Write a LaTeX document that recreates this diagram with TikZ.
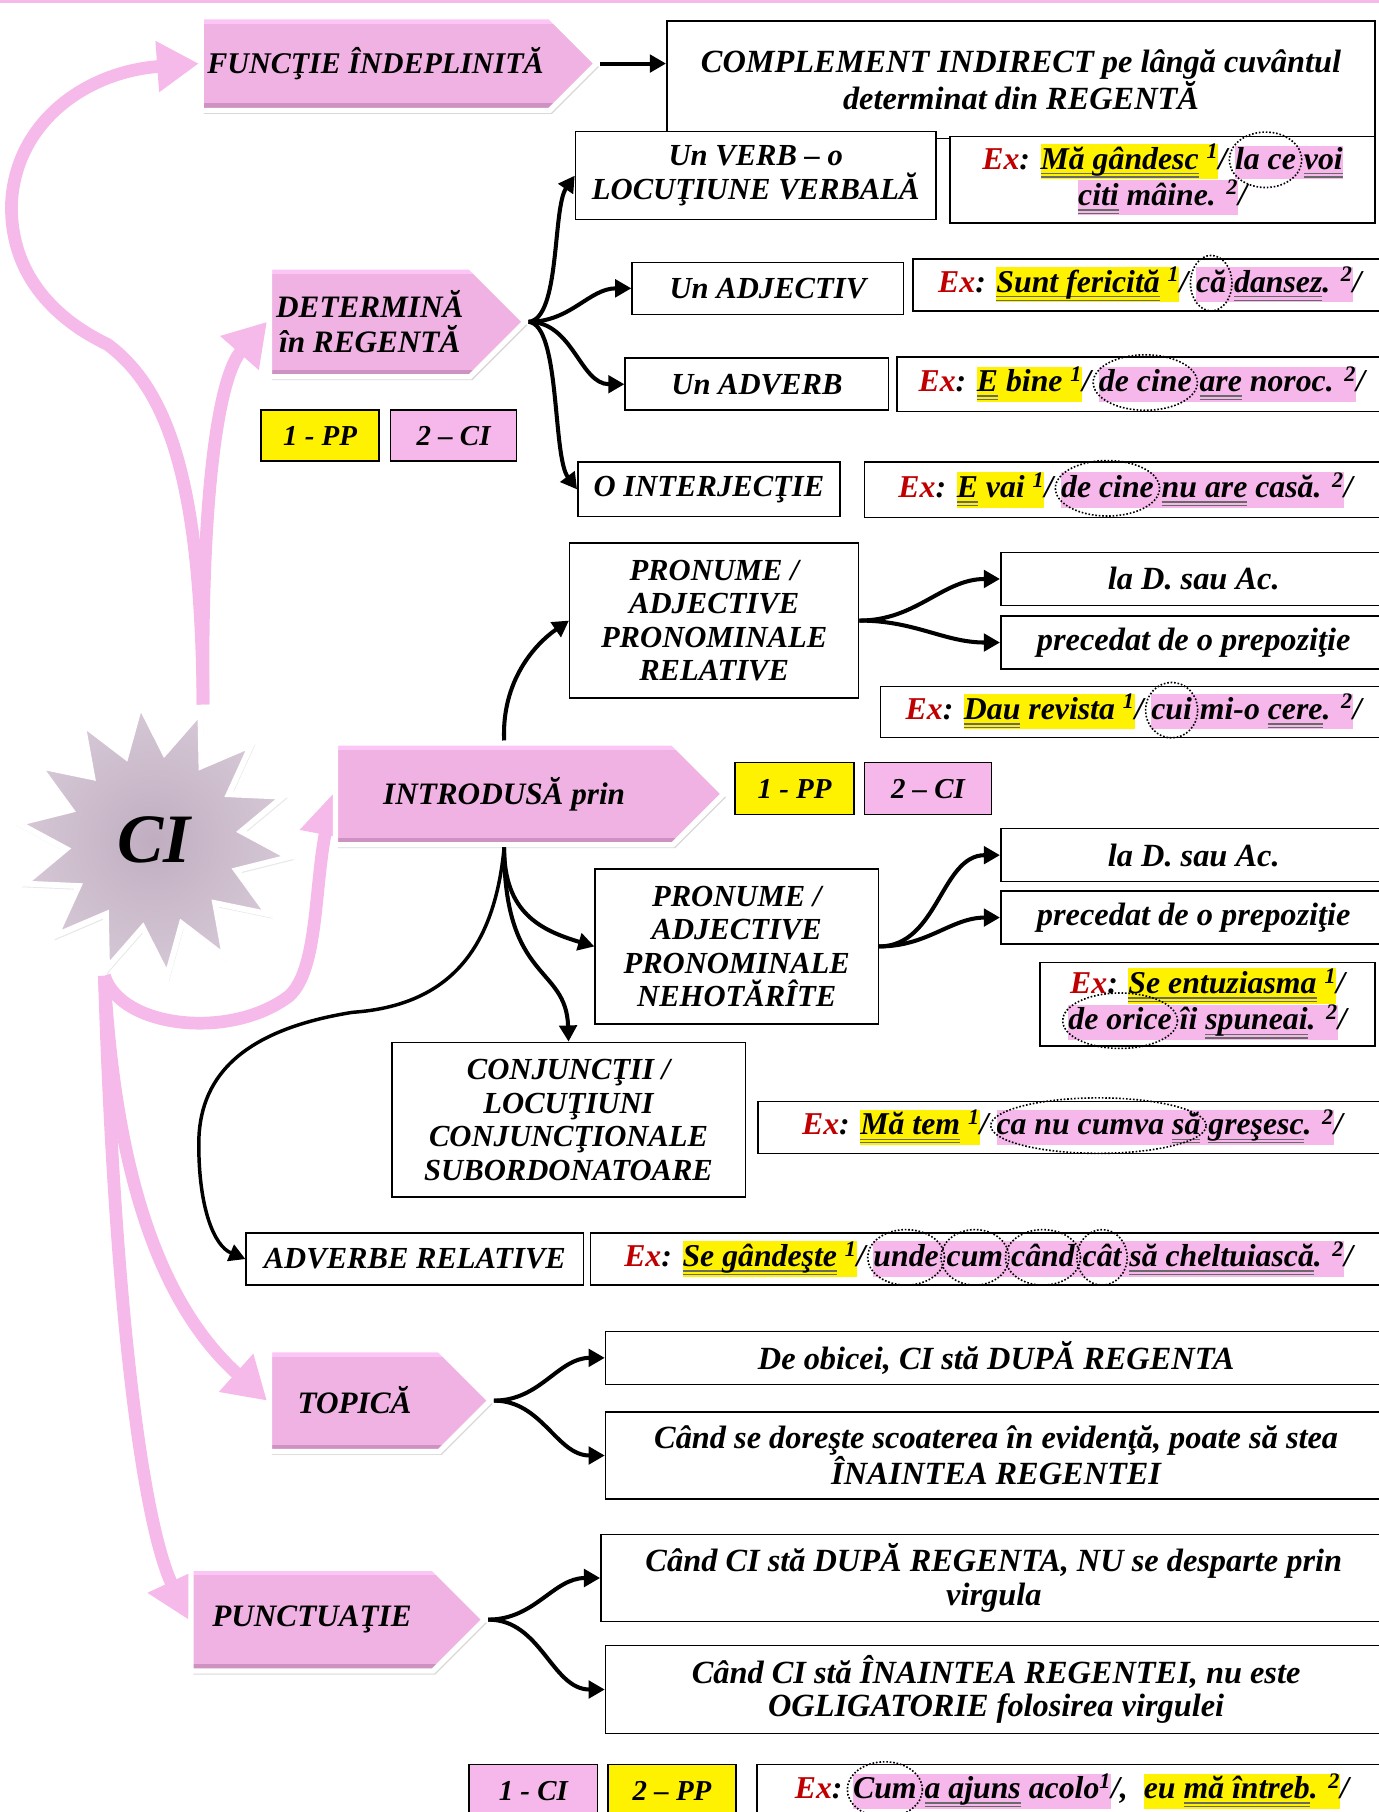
\documentclass[tikz,border=0pt]{standalone}
\usepackage{fontspec}
\setmainfont{Liberation Serif}
\usetikzlibrary{arrows.meta,positioning,shapes.geometric,shapes.symbols,shadows,calc}
\pgfdeclarelayer{background}
\pgfsetlayers{background,main}

\definecolor{pinkline}{RGB}{246,186,234}
\definecolor{pinkshape}{RGB}{239,178,226}
\definecolor{pinktop}{RGB}{251,198,246}
\definecolor{pinkbot}{RGB}{206,146,194}
\definecolor{pinkhl}{RGB}{246,184,234}
\definecolor{exred}{RGB}{192,0,0}
\definecolor{ulgray}{RGB}{105,105,105}
\definecolor{starin}{RGB}{192,174,192}
\definecolor{starout}{RGB}{214,200,214}

% highlights, double underline, dotted ring round a relative word
\newsavebox\uubox
\newcommand\uu[1]{\sbox\uubox{#1}\rlap{\textcolor{ulgray}{\rule[-0.16em]{\wd\uubox}{0.045em}}}\rlap{\textcolor{ulgray}{\rule[-0.27em]{\wd\uubox}{0.045em}}}\usebox\uubox}
\newcommand\hy[1]{{\setlength{\fboxsep}{0pt}\colorbox{yellow}{\strut#1}}}
\newcommand\hp[1]{{\setlength{\fboxsep}{0pt}\colorbox{pinkhl}{\strut#1}}}
\newcommand\exlbl{\textcolor{exred}{Ex}:}
\newcommand\relw[1]{\tikz[baseline=(rw.base)]{\node[shape=rectangle,anchor=center,inner sep=0pt,outer sep=0pt,minimum width=0pt,minimum height=0pt] (rw) {#1};
  \draw[overlay,line width=1.4pt,dash pattern=on 1.4pt off 1.6pt] let \p1=($(rw.east)-(rw.west)$) in ([yshift=8pt]rw.base) ellipse [x radius=0.5*\x1+5pt, y radius=24pt];}}

\begin{document}
\begin{tikzpicture}[x=1pt,y=1pt,
  tagshape/.style={signal, signal to=east, signal pointer angle=90, anchor=west, inner sep=0pt, align=center,
    fill=pinkshape, draw=white, line width=4.5pt,
    drop shadow={opacity=0.3,shadow xshift=2pt,shadow yshift=-3pt},
    path picture={\fill[pinktop] (path picture bounding box.north west) rectangle ([yshift=-6pt]path picture bounding box.north east);
      \fill[pinkbot] ([yshift=6pt]path picture bounding box.south west) rectangle (path picture bounding box.south east);},
    font=\bfseries\itshape\fontsize{27}{30}\selectfont},
  infobox/.style={draw, line width=1.3pt, fill=white, inner sep=0pt, align=center, font=\bfseries\itshape\fontsize{28}{29}\selectfont},
  capsbox/.style={infobox, font=\bfseries\itshape\fontsize{26.5}{29}\selectfont},
  exbox/.style={infobox, font=\bfseries\itshape\fontsize{27.5}{29}\selectfont},
  keybox/.style={draw, line width=1.3pt, inner sep=0pt, font=\bfseries\itshape\fontsize{25}{29}\selectfont},
  pinkarrow/.style={draw=pinkline, line width=11pt, -{Triangle[length=36pt,width=42pt]}},
  blackarrow/.style={line width=3.5pt, -{Triangle[length=14pt,width=15pt]}}]
  \useasboundingbox (0,0) rectangle (1193,-1568);
  \fill[pinkline] (0,0) rectangle (1193,-2.6);

  % function
  \node[tagshape, minimum width=342, minimum height=81, font=\bfseries\itshape\fontsize{26}{30}\selectfont] (fct) at (172,-55) {FUNCŢIE ÎNDEPLINITĂ};
  \node[infobox, minimum width=613, minimum height=102] (cmpl) at (883.5,-69) {COMPLEMENT INDIRECT pe lângă cuvântul\\determinat din REGENTĂ};

  % what it determines
  \node[tagshape, minimum width=221, minimum height=95] (det) at (231,-278.5) {DETERMINĂ\\în REGENTĂ};
  \node[keybox, fill=yellow, minimum width=102, minimum height=44] (pp1) at (277,-377) {1 - PP};
  \node[keybox, fill=pinkhl, minimum width=109, minimum height=44] (ci1) at (392.5,-377) {2 – CI};
  \node[capsbox, minimum width=312, minimum height=76] (verb) at (654,-152) {Un VERB – o\\LOCUŢIUNE VERBALĂ};
  \node[exbox, minimum width=368, minimum height=75] (ex1) at (1006,-155.5) {\exlbl{} \hy{\uu{Mă gândesc} \textsuperscript{1}}/ \hp{\relw{la ce} \uu{voi}}\\\hp{\uu{citi} mâine. \textsuperscript{2}}/};
  \node[capsbox, minimum width=235, minimum height=45] (adj) at (664.5,-249.5) {Un ADJECTIV};
  \node[exbox, minimum width=410, minimum height=45] (exadj) at (995,-246.5) {\exlbl{} \hy{\uu{Sunt fericită} \textsuperscript{1}}/ \hp{\relw{că} \uu{dansez}. \textsuperscript{2}}/};
  \node[capsbox, minimum width=228, minimum height=45] (adv) at (655,-332.5) {Un ADVERB};
  \node[exbox, minimum width=424, minimum height=47] (exadv) at (988,-332.5) {\exlbl{} \hy{\uu{E} bine \textsuperscript{1}}/ \hp{\relw{de cine} \uu{are} noroc. \textsuperscript{2}}/};
  \node[capsbox, minimum width=227, minimum height=47] (interj) at (613.5,-423.5) {O INTERJECŢIE};
  \node[exbox, minimum width=452, minimum height=48] (exinterj) at (974,-424) {\exlbl{} \hy{\uu{E} vai \textsuperscript{1}}/ \hp{\relw{de cine} \uu{nu are} casă. \textsuperscript{2}}/};

  % introduced by
  \node[tagshape, minimum width=336, minimum height=88] (intro) at (288,-687) {INTRODUSĂ prin};
  \node[keybox, fill=yellow, minimum width=103, minimum height=45] (pp2) at (687.5,-682.5) {1 - PP};
  \node[keybox, fill=pinkhl, minimum width=110, minimum height=45] (ci2) at (803,-682.5) {2 – CI};
  \node[capsbox, minimum width=250, minimum height=134] (rel) at (618,-537) {PRONUME /\\ADJECTIVE\\PRONOMINALE\\RELATIVE};
  \node[infobox, minimum width=334, minimum height=46] (lad1) at (1033,-501) {la D. sau Ac.};
  \node[infobox, minimum width=334, minimum height=46] (prec1) at (1033,-556) {precedat de o prepoziţie};
  \node[exbox, minimum width=438, minimum height=44] (exrel) at (981,-616) {\exlbl{} \hy{\uu{Dau} revista \textsuperscript{1}}/ \hp{\relw{cui} mi-o \uu{cere}. \textsuperscript{2}}/};
  \node[capsbox, minimum width=245, minimum height=134] (nehot) at (637.5,-819) {PRONUME /\\ADJECTIVE\\PRONOMINALE\\NEHOTĂRÎTE};
  \node[infobox, minimum width=334, minimum height=46] (lad2) at (1033,-740) {la D. sau Ac.};
  \node[infobox, minimum width=334, minimum height=46] (prec2) at (1033,-794) {precedat de o prepoziţie};
  \node[exbox, minimum width=290, minimum height=72] (exnehot) at (1045,-869) {\exlbl{} \hy{\uu{Se entuziasma} \textsuperscript{1}}/\\\hp{\relw{de orice} îi \uu{spuneai}. \textsuperscript{2}}/};
  \node[capsbox, minimum width=306, minimum height=134] (conj) at (492,-969) {CONJUNCŢII /\\LOCUŢIUNI\\CONJUNCŢIONALE\\SUBORDONATOARE};
  \node[exbox, minimum width=544, minimum height=45] (exconj) at (928,-975.5) {\exlbl{} \hy{\uu{Mă tem} \textsuperscript{1}}/ \hp{\relw{ca nu cumva \uu{să}} \uu{greşesc}. \textsuperscript{2}}/};
  \node[capsbox, minimum width=292, minimum height=45] (advrel) at (359,-1089.5) {ADVERBE RELATIVE};
  \node[exbox, minimum width=689, minimum height=45] (exadvrel) at (855.5,-1089.5) {\exlbl{} \hy{\uu{Se gândeşte} \textsuperscript{1}}/ \hp{\relw{unde} \relw{cum} \relw{când} \relw{cât} \uu{să cheltuiască}. \textsuperscript{2}}/};

  % word order
  \node[tagshape, minimum width=191, minimum height=88] (topica) at (231,-1212) {TOPICĂ};
  \node[infobox, minimum width=676, minimum height=46] (deob) at (862,-1175) {De obicei, CI stă DUPĂ REGENTA};
  \node[infobox, minimum width=676, minimum height=75] (cand) at (862,-1259.5) {Când se doreşte scoaterea în evidenţă, poate să stea\\ÎNAINTEA REGENTEI};

  % punctuation
  \node[tagshape, minimum width=254, minimum height=89] (punct) at (163,-1401.5) {PUNCTUAŢIE};
  \node[infobox, minimum width=680, minimum height=75] (dupa) at (860,-1365.5) {Când CI stă DUPĂ REGENTA, NU se desparte prin\\virgula};
  \node[infobox, minimum width=676, minimum height=76] (inainte) at (862,-1462) {Când CI stă ÎNAINTEA REGENTEI, nu este\\OGLIGATORIE folosirea virgulei};
  \node[keybox, fill=pinkhl, minimum width=111, minimum height=46] (ci3) at (461.5,-1550) {1 - CI};
  \node[keybox, fill=yellow, minimum width=111, minimum height=46] (pp3) at (581.5,-1550) {2 – PP};
  \node[exbox, minimum width=545, minimum height=46] (exlast) at (927.5,-1550) {\exlbl{} \hp{\relw{Cum} \uu{a ajuns} acolo\textsuperscript{1}}/,\enspace \hy{eu \uu{mă întreb}. \textsuperscript{2}}/};

  % centre
  \node[star, star points=14, star point ratio=1.55, minimum size=236, shape border rotate=-20,
    inner color=starin, outer color=starout, draw=white, line width=5pt,
    drop shadow={opacity=0.18,shadow xshift=1pt,shadow yshift=-2pt,shadow scale=1.03},
    font=\bfseries\itshape\fontsize{60}{66}\selectfont] (ci) at (133,-727) {CI};

  \begin{pgfonlayer}{background}
    \draw[pinkarrow] (ci.outer point 1) .. controls (174,-430) and (150,-340) .. (93,-298)
      .. controls (45,-275) and (8,-235) .. (10,-175) .. controls (14,-105) and (75,-62) .. (fct.west);
    \draw[pinkarrow] (ci.outer point 1) .. controls (174,-420) and (190,-325) .. (det.west);
    \draw[pinkarrow] (ci.outer point 8) .. controls (105,-890) and (200,-900) .. (250,-862)
      .. controls (275,-840) and (272,-770) .. (intro.west);
    \draw[pinkarrow] (ci.outer point 8) .. controls (100,-1020) and (140,-1130) .. (topica.west);
    \draw[pinkarrow] (ci.outer point 8) .. controls (100,-1150) and (125,-1320) .. (punct.west);
  \end{pgfonlayer}

  \draw[blackarrow] (fct.east) -- (fct.east -| cmpl.west);
  \draw[blackarrow] (det.east) .. controls (485,-276) and (478,-180) .. (verb.west);
  \draw[blackarrow] (det.east) to[out=0,in=180] (adj.west);
  \draw[blackarrow] (det.east) to[out=0,in=180] (adv.west);
  \draw[blackarrow] (det.east) .. controls (485,-281) and (478,-395) .. (interj.west);
  \draw[blackarrow] (intro.north) .. controls (434,-590) and (462,-558) .. (rel.west);
  \draw[blackarrow] (intro.south) .. controls (436,-790) and (468,-805) .. (nehot.west);
  \draw[blackarrow] (intro.south) .. controls (436,-850) and (490,-835) .. (conj.north);
  \draw[blackarrow, line width=3pt] (intro.south) .. controls (428,-820) and (390,-870) .. (305,-876)
    .. controls (205,-892) and (172,-935) .. (172,-990) .. controls (172,-1045) and (185,-1078) .. (advrel.west);
  \draw[blackarrow] (rel.east) to[out=0,in=180] (lad1.west);
  \draw[blackarrow] (rel.east) to[out=0,in=180] (prec1.west);
  \draw[blackarrow] (nehot.east) to[out=0,in=180] (lad2.west);
  \draw[blackarrow] (nehot.east) to[out=0,in=180] (prec2.west);
  \draw[blackarrow] (topica.east) to[out=0,in=180] (deob.west);
  \draw[blackarrow] (topica.east) to[out=0,in=180] (cand.west);
  \draw[blackarrow] (punct.east) to[out=0,in=180] (dupa.west);
  \draw[blackarrow] (punct.east) to[out=0,in=180] (inainte.west);
\end{tikzpicture}
\end{document}
